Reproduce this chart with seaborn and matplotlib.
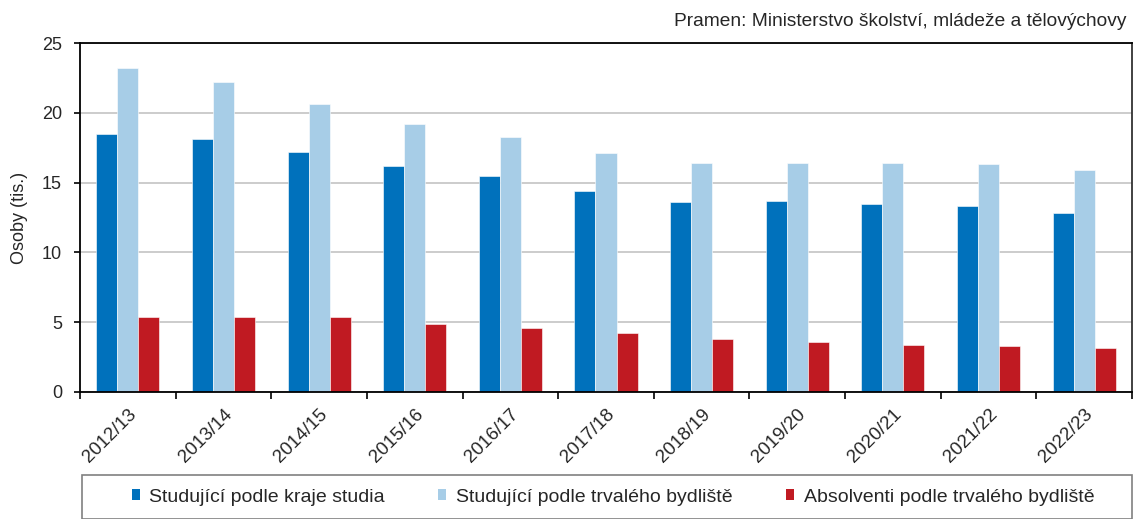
import matplotlib
matplotlib.use("Agg")
import matplotlib.pyplot as plt
from matplotlib.patches import Rectangle, Patch
import seaborn as sns
import pandas as pd
import numpy as np

years = ["2012/13", "2013/14", "2014/15", "2015/16", "2016/17", "2017/18",
         "2018/19", "2019/20", "2020/21", "2021/22", "2022/23"]
studujici_kraj = [18.5, 18.1, 17.2, 16.2, 15.5, 14.4, 13.6, 13.7, 13.5, 13.3, 12.8]
studujici_bydliste = [23.2, 22.2, 20.6, 19.2, 18.3, 17.1, 16.4, 16.4, 16.4, 16.3, 15.9]
absolventi = [5.4, 5.35, 5.35, 4.85, 4.6, 4.2, 3.8, 3.55, 3.4, 3.3, 3.15]
series_names = ["Studující podle kraje studia", "Studující podle trvalého bydliště",
                "Absolventi podle trvalého bydliště"]
colors = ["#0071BC", "#A7CDE7", "#C01A22"]
source_text = "Pramen: Ministerstvo školství, mládeže a tělovýchovy"
y_label = "Osoby (tis.)"

df = pd.DataFrame({
    "rok": years * 3,
    "hodnota": studujici_kraj + studujici_bydliste + absolventi,
    "rada": [series_names[0]] * len(years) + [series_names[1]] * len(years) + [series_names[2]] * len(years),
})

sns.set_theme(style="white")
plt.rcParams["font.family"] = ["Liberation Sans", "DejaVu Sans"]
plt.rcParams["font.size"] = 13

fig = plt.figure(figsize=(11.33, 5.19), dpi=100)
ax = fig.add_axes([80 / 1133, (519 - 392) / 519, (1132 - 80) / 1133, (392 - 43) / 519])

sns.barplot(data=df, x="rok", y="hodnota", hue="rada", order=years, hue_order=series_names,
            palette=colors, saturation=1, width=0.66, gap=0, ax=ax, legend=False,
            edgecolor="white", linewidth=0.4)

ax.set_ylim(0, 25)
ax.set_xlim(-0.5, len(years) - 0.5)
ax.set_yticks([0, 5, 10, 15, 20, 25])
ax.yaxis.grid(True, color="#C4C4C4", linewidth=1.2)
ax.set_axisbelow(True)
for s in ax.spines.values():
    s.set_visible(True)
    s.set_color("black")
    s.set_linewidth(1.3)
ax.spines["right"].set_color("#333333")

ax.set_xlabel("")
ax.set_ylabel(y_label, fontsize=13, labelpad=10)
ax.tick_params(axis="y", which="major", direction="out", length=4, width=1.2, color="black",
               left=True, labelsize=13, pad=9)
ax.set_xticks(range(len(years)))
ax.set_xticklabels(years, rotation=45, ha="right", rotation_mode="anchor", fontsize=13.5)
ax.tick_params(axis="x", which="major", length=0, pad=10)
ax.set_xticks(np.arange(-0.5, len(years), 1.0), minor=True)
ax.tick_params(axis="x", which="minor", direction="out", length=5, width=1.2, color="black", bottom=True)

fig.text(1127 / 1133, 1 - 22 / 519, source_text, ha="right", va="center", fontsize=13.8)

# legend box
fig.patches.append(Rectangle((82 / 1133, 0), (1132 - 82) / 1133, 44 / 519,
                             transform=fig.transFigure, fill=False, edgecolor="#808080", linewidth=1.2))
handles = [Patch(facecolor=c, edgecolor="none") for c in colors]
fig.legend(handles, series_names, loc="center", bbox_to_anchor=(613 / 1133, 1 - 497 / 519),
           ncol=3, frameon=False, fontsize=14, handlelength=0.4, handleheight=0.5,
           handletextpad=0.5, columnspacing=2.75)

fig.savefig("out.png", dpi=100)
